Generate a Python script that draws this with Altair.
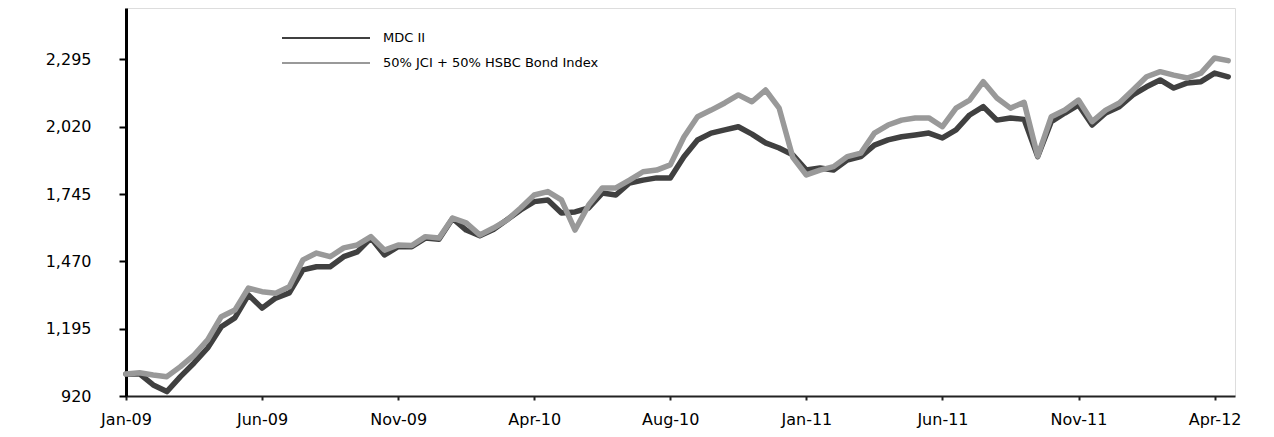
import altair as alt
import pandas as pd

SERIES = ["MDC II", "50% JCI + 50% HSBC Bond Index"]
COLORS = ["#404040", "#999999"]
TICK_LABELS = ["Jan-09", "Jun-09", "Nov-09", "Apr-10", "Aug-10",
               "Jan-11", "Jun-11", "Nov-11", "Apr-12"]
Y_TICKS = [920, 1195, 1470, 1745, 2020, 2295]

MDC = [1010, 1010, 965, 938, 999, 1055, 1116, 1203, 1239, 1333,
       1279, 1320, 1341, 1435, 1448, 1448, 1489, 1509, 1565, 1496,
       1530, 1530, 1565, 1560, 1645, 1598, 1575, 1600, 1640, 1680,
       1714, 1721, 1668, 1672, 1688, 1749, 1741, 1790, 1802, 1811,
       1811, 1897, 1966, 1994, 2007, 2020, 1990, 1954, 1933, 1905,
       1843, 1851, 1843, 1884, 1898, 1945, 1966, 1979, 1986, 1994,
       1974, 2007, 2068, 2102, 2047, 2056, 2050, 1898, 2041, 2076,
       2109, 2027, 2076, 2102, 2150, 2183, 2211, 2178, 2199, 2204,
       2239, 2224]

BENCH = [1010, 1015, 1006, 999, 1040, 1087, 1149, 1244, 1271, 1361,
         1346, 1340, 1366, 1476, 1504, 1489, 1525, 1537, 1571, 1516,
         1537, 1535, 1571, 1565, 1647, 1627, 1578, 1606, 1639, 1688,
         1741, 1755, 1721, 1598, 1700, 1770, 1770, 1802, 1836, 1843,
         1864, 1978, 2061, 2088, 2117, 2150, 2122, 2170, 2096, 1895,
         1823, 1843, 1857, 1898, 1912, 1994, 2027, 2047, 2056, 2056,
         2020, 2096, 2129, 2204, 2137, 2096, 2120, 1900, 2061, 2088,
         2129, 2041, 2088, 2117, 2170, 2224, 2245, 2231, 2219, 2239,
         2301, 2290]

STEP = 10  # observations between labelled ticks

rows = []
for name, vals in zip(SERIES, [MDC, BENCH]):
    for i, v in enumerate(vals):
        rows.append({"idx": i, "value": v, "series": name})
df = pd.DataFrame(rows)

labels_js = "[" + ",".join("'%s'" % t for t in TICK_LABELS) + "]"
FONT = "DejaVu Sans"

x_enc = alt.X(
    "idx:Q",
    scale=alt.Scale(domain=[0, 81.5], nice=False, zero=False),
    axis=alt.Axis(
        values=[k * STEP for k in range(len(TICK_LABELS))],
        labelExpr=labels_js + "[round(datum.value/%d)]" % STEP,
        title=None, grid=False,
        domainColor="#222222", domainWidth=2,
        tickColor="#222222", tickWidth=2, tickSize=4,
        labelFont=FONT, labelFontSize=16, labelColor="#000000",
        labelPadding=11, labelFlush=False,
    ),
)
y_enc = alt.Y(
    "value:Q",
    scale=alt.Scale(domain=[920, 2505], nice=False, zero=False),
    axis=alt.Axis(
        values=Y_TICKS, format=",d", title=None, grid=False,
        domainColor="#000000", domainWidth=3,
        tickColor="#000000", tickWidth=2, tickSize=7,
        labelFont=FONT, labelFontSize=16, labelColor="#000000",
        labelPadding=28, minExtent=118, maxExtent=118,
    ),
)
color_scale = alt.Scale(domain=SERIES, range=COLORS)

base = alt.Chart(df)
lines = []
for name in SERIES:
    lines.append(
        base.transform_filter(alt.datum.series == name)
        .mark_line(strokeWidth=5.5, strokeJoin="round", strokeCap="round")
        .encode(x=x_enc, y=y_enc,
                color=alt.Color("series:N", scale=color_scale, legend=None))
    )

leg_df = pd.DataFrame({"series": SERIES, "row": list(range(len(SERIES)))})
leg_y = alt.Y("row:Q", scale=alt.Scale(domain=[0, 1], range=[30, 55]), axis=None)
leg_rules = alt.Chart(leg_df).mark_rule(strokeWidth=2).encode(
    x=alt.value(156), x2=alt.value(244), y=leg_y,
    color=alt.Color("series:N", scale=color_scale, legend=None),
)
leg_text = alt.Chart(leg_df).mark_text(
    align="left", baseline="middle", font=FONT, fontSize=13, color="#000000"
).encode(x=alt.value(257), y=leg_y, text="series:N")

main = alt.layer(*lines)
chart = (
    alt.layer(main, leg_rules, leg_text)
    .resolve_scale(y="independent")
    .properties(width=1109, height=388,
                padding={"left": 0, "top": 0, "right": 5, "bottom": 5})
    .configure_view(stroke=None)
    .configure(background="#ffffff")
)

chart.save("out.html", embed_options={"renderer": "svg", "actions": False})
